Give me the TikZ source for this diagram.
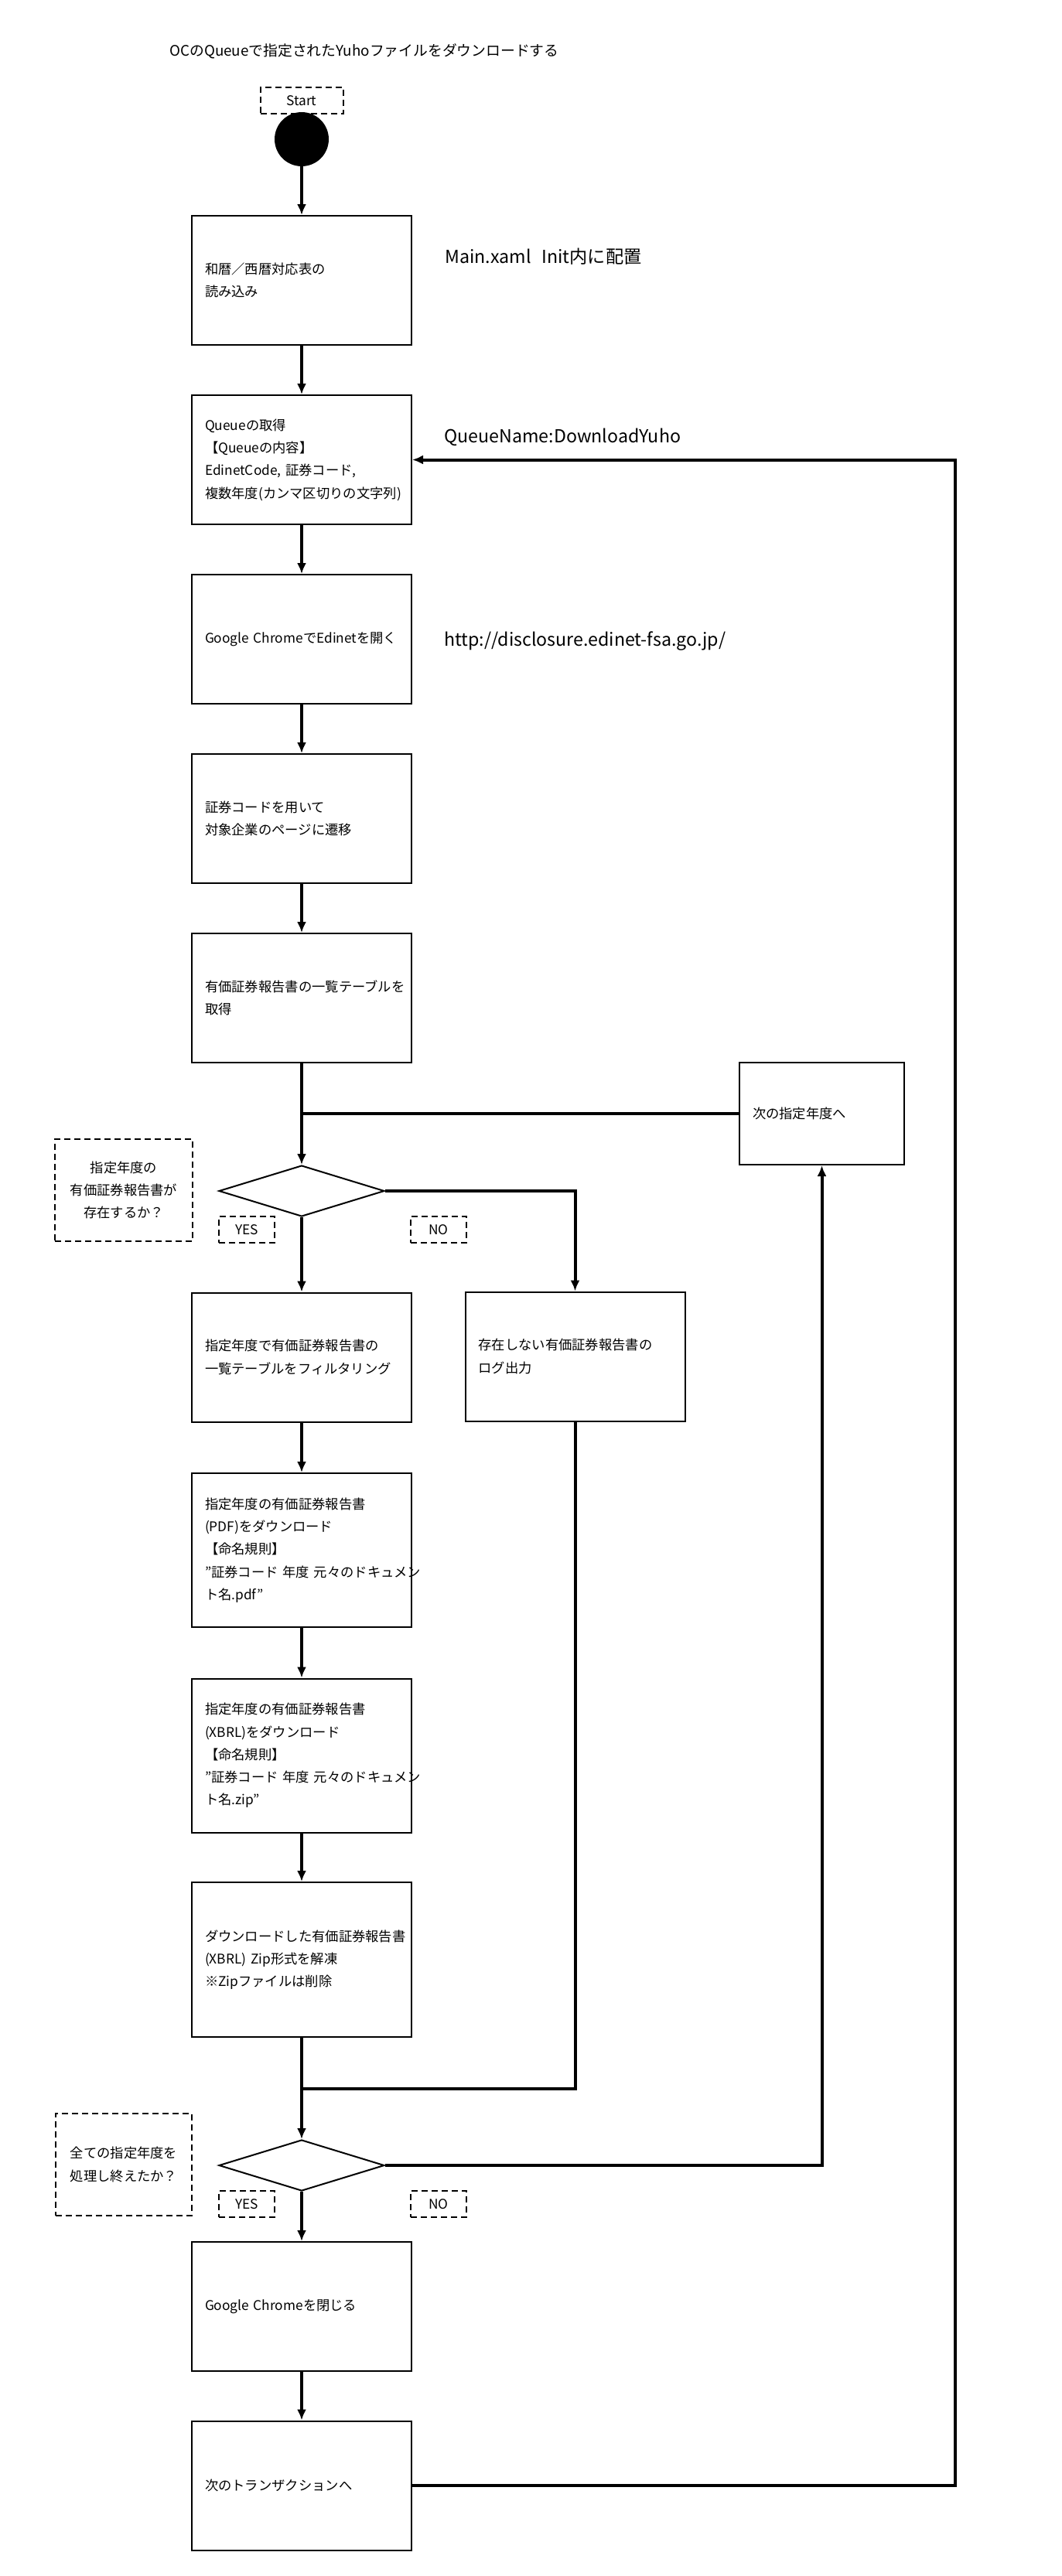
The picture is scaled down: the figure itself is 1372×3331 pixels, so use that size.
\documentclass[tikz,border=0pt]{standalone}
\usepackage{fontspec}
\setmainfont{Noto Sans CJK JP}[CharacterWidth=Proportional]
\newcommand\fw[1]{{\addfontfeature{RawFeature=-pwid}#1}}
\usetikzlibrary{shapes.geometric,arrows.meta}

\begin{document}
\begin{tikzpicture}[x=0.5pt, y=-0.5pt, >={Latex[length=7pt,width=6pt]}]
    \tikzstyle{every node}+=[inner sep=0pt, font=\fontsize{8.65pt}{14.65pt}\selectfont]
    \tikzstyle{stepbox}=[draw, line width=1pt, minimum width=142pt, minimum height=83.5pt, text width=125pt, inner xsep=8.5pt, align=left]
    \tikzstyle{tallbox}=[stepbox, minimum height=99.5pt]
    \tikzstyle{notebox}=[draw, dash pattern=on 4pt off 2.5pt, line width=1pt, align=center]
    \tikzstyle{answer}=[notebox, minimum width=36pt, minimum height=17pt]
    \tikzstyle{choice}=[draw, diamond, line width=1pt, aspect=3.24, minimum width=107pt, minimum height=33pt]
    \tikzstyle{side}=[anchor=west, font=\fontsize{11.6pt}{14pt}\selectfont]
    \useasboundingbox (0, 0) rectangle (1372, 3331);

    \node[anchor=west, font=\fontsize{9.4pt}{12pt}\selectfont] (title) at (219, 66) {OCのQueueで指定されたYuhoファイルをダウンロードする};
    \node[notebox, minimum width=53.5pt, minimum height=17pt] (start) at (390, 130) {Start};
    \node[circle, fill, minimum size=35pt] (init) at (390, 180) {};

    \node[stepbox] (load)    at (390, 362.5)  {和暦\fw{／}西暦対応表の\\読み込み};
    \node[stepbox] (queue)   at (390, 594.5)  {Queueの取得\\【Queueの内容】\\EdinetCode, 証券コード,\\複数年度(カンマ区切りの文字列)};
    \node[stepbox] (chrome)  at (390, 826.5)  {Google ChromeでEdinetを開く};
    \node[stepbox] (company) at (390, 1058.5) {証券コードを用いて\\対象企業のページに遷移};
    \node[stepbox] (table)   at (390, 1290.5) {有価証券報告書の一覧テーブルを\\取得};

    \node[side] (mainxaml)  at (575, 332) {Main.xaml\hspace{0.6em}Init内に配置};
    \node[side] (queuename) at (574, 565) {QueueName:DownloadYuho};
    \node[side] (edinet)    at (574, 829) {http://disclosure.edinet-fsa.go.jp/};

    \coordinate (merge1) at (390, 1440);
    \node[stepbox, minimum width=106.5pt, minimum height=66pt, text width=89.5pt] (nextyear) at (1062.5, 1440) {次の指定年度へ};

    \node[choice] (exists) at (390, 1540) {};
    \node[notebox, minimum width=89pt, minimum height=66pt] (askexists) at (160, 1539) {指定年度の\\有価証券報告書が\\存在するか\fw{？}};
    \node[answer] (yes1) at (319, 1590) {YES};
    \node[answer] (no1)  at (567, 1590) {NO};

    \node[stepbox] (filter) at (390, 1755) {指定年度で有価証券報告書の\\一覧テーブルをフィルタリング};
    \node[stepbox] (log)    at (743.5, 1754) {存在しない有価証券報告書の\\ログ出力};
    \node[tallbox] (pdf)    at (390, 2004.5) {指定年度の有価証券報告書\\(PDF)をダウンロード\\【命名規則】\\"証券コード~年度~元々のドキュメン\\ト名.pdf"};
    \node[tallbox] (xbrl)   at (390, 2270) {指定年度の有価証券報告書\\(XBRL)をダウンロード\\【命名規則】\\"証券コード~年度~元々のドキュメン\\ト名.zip"};
    \node[tallbox, minimum height=100pt] (unzip) at (390, 2534) {ダウンロードした有価証券報告書\\(XBRL)~Zip形式を解凍\\※Zipファイルは削除};

    \coordinate (merge2) at (390, 2701);
    \node[choice] (alldone) at (390, 2800) {};
    \node[notebox, minimum width=88pt, minimum height=66pt] (askdone) at (160, 2799) {全ての指定年度を\\処理し終えたか\fw{？}};
    \node[answer] (yes2) at (319, 2850) {YES};
    \node[answer] (no2)  at (567, 2850) {NO};

    \node[stepbox] (close)  at (390, 2982.5) {Google Chromeを閉じる};
    \node[stepbox] (nexttx) at (390, 3214)   {次のトランザクションへ};
    \coordinate (back) at (1235, 594.5);

    \path[->, line width=2pt] (init) edge (load)
                              (load) edge (queue)
                              (queue) edge (chrome)
                              (chrome) edge (company)
                              (company) edge (table)
                              (table) edge (exists)
                              (exists) edge (filter)
                              (filter) edge (pdf)
                              (pdf) edge (xbrl)
                              (xbrl) edge (unzip)
                              (unzip) edge (alldone)
                              (alldone) edge (close)
                              (close) edge (nexttx);
    \draw[line width=2pt] (nextyear.west) -- (merge1);
    \draw[line width=2pt] (log.south) |- (merge2);
    \draw[->, line width=2pt] (exists.east) -| (log.north);
    \draw[->, line width=2pt] (alldone.east) -| (nextyear.south);
    \draw[->, line width=2pt] (nexttx.east) -| (back) -- (queue.east);
\end{tikzpicture}
\end{document}
